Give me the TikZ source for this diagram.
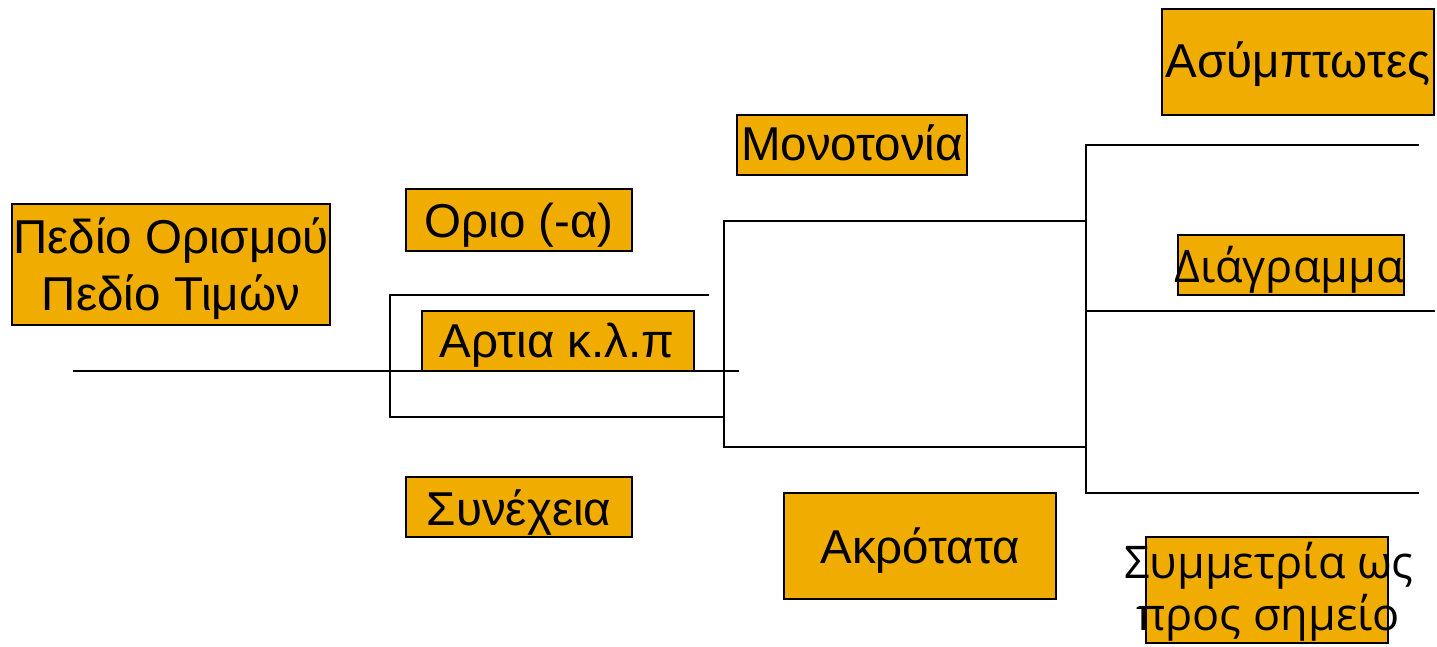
\documentclass[tikz,border=0pt]{standalone}
\usepackage{fontspec}
\setmainfont{Liberation Sans}
\newfontfamily\altfont{Open Sans}
\definecolor{boxfill}{RGB}{240,173,0}
\begin{document}
\begin{tikzpicture}[x=1pt,y=-1pt,
  box/.style={draw=black,line width=1.8pt,fill=boxfill,inner sep=0pt},
  lbl/.style={anchor=base,inner sep=0pt,font=\fontsize{47.5}{55}\selectfont},
  altlbl/.style={anchor=base,inner sep=0pt,font=\altfont\fontsize{45}{55}\selectfont},
  wire/.style={line width=1.6pt,line cap=rect}]
\useasboundingbox (0,0) rectangle (1437,647);

% orange boxes
\path[box] (12,204) rectangle (330,325);
\path[box] (406,189) rectangle (632,251);
\path[box] (422,311) rectangle (694,371);
\path[box] (737,115) rectangle (967,175);
\path[box] (1162,9) rectangle (1434,115);
\path[box] (1178,235) rectangle (1404,295);
\path[box] (1146,537) rectangle (1388,643);
\path[box] (406,477) rectangle (632,537);
\path[box] (784,493) rectangle (1056,599);

% labels
\node[lbl] (pedio1) at (171,253) {Πεδίο Ορισμού};
\node[lbl] (pedio2) at (171,310) {Πεδίο Τιμών};
\node[lbl] (orio) at (519,237) {Οριο (-α)};
\node[lbl] (artia) at (557,357) {Αρτια κ.λ.π};
\node[lbl] (monot) at (852,161) {Μονοτονία};
\node[lbl] (asym) at (1298,78) {Ασύμπτωτες};
\node[altlbl] (diag) at (1289,282) {Διάγραμμα};
\node[altlbl] (sym1) at (1269,578) {Συμμετρία ως};
\node[altlbl] (sym2) at (1268,630) {προς σημείο};
\node[lbl] (syn) at (519,525) {Συνέχεια};
\node[lbl] (akro) at (920,563) {Ακρότατα};

% bracket junction points
\coordinate (m0) at (74,371);
\coordinate (m1) at (738,371);
\coordinate (a1) at (390,295);
\coordinate (a1e) at (708,295);
\coordinate (a2) at (390,417);
\coordinate (b1) at (724,221);
\coordinate (b2) at (724,417);
\coordinate (b3) at (724,447);
\coordinate (c1) at (1086,145);
\coordinate (c1e) at (1418,145);
\coordinate (c2) at (1086,221);
\coordinate (c3) at (1086,311);
\coordinate (c3e) at (1434,311);
\coordinate (c4) at (1086,447);
\coordinate (c5) at (1086,493);
\coordinate (c5e) at (1418,493);

% bracket lines
\draw[wire] (m0) -- (m1);
\draw[wire] (a1e) -- (a1) -- (a2) -- (b2);
\draw[wire] (c2) -- (b1) -- (b3) -- (c4);
\draw[wire] (c1e) -- (c1) -- (c5) -- (c5e);
\draw[wire] (c3) -- (c3e);
\end{tikzpicture}
\end{document}
